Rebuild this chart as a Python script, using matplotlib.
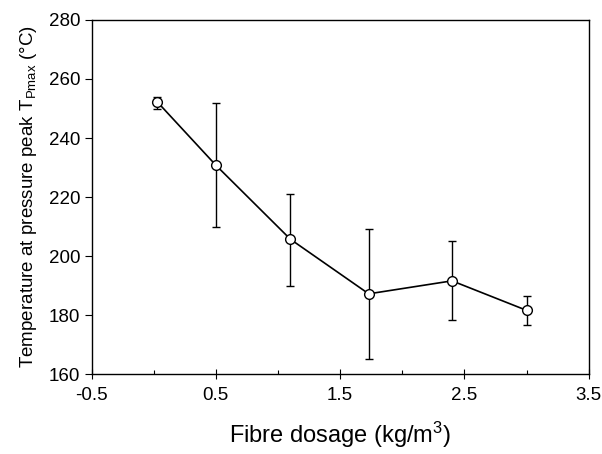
import matplotlib
matplotlib.use("Agg")
import matplotlib.pyplot as plt
from matplotlib.ticker import MultipleLocator

plt.rcParams['font.family'] = ['Liberation Sans', 'DejaVu Sans']
plt.rcParams['mathtext.fontset'] = 'custom'
plt.rcParams['mathtext.rm'] = 'Liberation Sans'
plt.rcParams['mathtext.it'] = 'Liberation Sans'

dosage = [0.03, 0.5, 1.1, 1.73, 2.4, 3.0]
temperature = [252.2, 230.8, 205.7, 187.2, 191.6, 181.6]
err_upper = [1.8, 21.2, 15.4, 22.0, 13.6, 4.8]
err_lower = [2.2, 21.0, 15.8, 22.0, 13.4, 4.8]

x_ticks = [-0.5, 0.5, 1.5, 2.5, 3.5]
x_tick_labels = ['-0.5', '0.5', '1.5', '2.5', '3.5']
y_ticks = [160, 180, 200, 220, 240, 260, 280]

fig = plt.figure(figsize=(6.02, 4.54), dpi=100)
ax = fig.add_axes([0.152, 0.176, 0.826, 0.780])

ax.errorbar(dosage, temperature, yerr=[err_lower, err_upper], fmt='-o',
            color='black', ecolor='black', elinewidth=1.0, capsize=3,
            capthick=1.0, lw=1.2, markersize=7, markerfacecolor='white',
            markeredgecolor='black', markeredgewidth=1.0, zorder=3)

ax.set_xlim(-0.5, 3.5)
ax.set_ylim(160, 280)
ax.set_xticks(x_ticks)
ax.set_xticklabels(x_tick_labels)
ax.set_yticks(y_ticks)
ax.xaxis.set_minor_locator(MultipleLocator(0.5))
ax.tick_params(axis='x', which='major', direction='inout', length=7, width=0.8, labelsize=13.5, pad=6)
ax.tick_params(axis='x', which='minor', direction='in', length=3, width=0.8)
ax.tick_params(axis='y', which='major', direction='out', length=5, width=0.8, labelsize=13.5, pad=3)

for s in ax.spines.values():
    s.set_linewidth(1.0)

ax.set_xlabel('Fibre dosage (kg/m$^{3}$)', fontsize=17, labelpad=11)
ax.set_ylabel('Temperature at pressure peak T$_{\\mathrm{Pmax}}$ (°C)', fontsize=13.5, labelpad=7)

fig.savefig('out.png', dpi=100)
